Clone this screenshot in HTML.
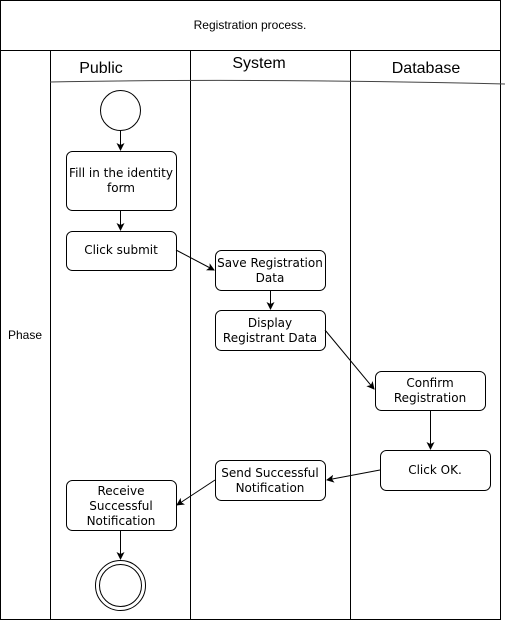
<!DOCTYPE html>
<html><head><style>body{margin:0;background:#fff}svg{display:block}text{font-family:"DejaVu Sans",sans-serif;font-size:12px;fill:#000}</style></head><body>
<svg width="506" height="621" xmlns="http://www.w3.org/2000/svg">
<defs><marker id="a" markerWidth="8" markerHeight="8" refX="7" refY="4" orient="auto" markerUnits="userSpaceOnUse"><path d="M0,0 L8,4 L0,8 L2,4 Z" fill="#000"/></marker></defs>
<g fill="none" stroke="#000" stroke-width="1">
<rect x="0.5" y="0.5" width="500" height="50"/>
<rect x="0.5" y="50.5" width="500" height="569"/>
<line x1="50.5" y1="50" x2="50.5" y2="620"/>
<line x1="190.5" y1="50" x2="190.5" y2="620"/>
<line x1="350.5" y1="50" x2="350.5" y2="620"/>
<path d="M50,82 Q250,78 505,84" stroke="#444"/>
<circle cx="120.5" cy="110.5" r="20"/>
<rect x="66.5" y="151.5" width="110" height="59" rx="6"/>
<rect x="66.5" y="231.5" width="110" height="39" rx="6"/>
<rect x="215.5" y="250.5" width="110" height="40" rx="6"/>
<rect x="215.5" y="310.5" width="110" height="40" rx="6"/>
<rect x="375.5" y="371.5" width="110" height="39" rx="6"/>
<rect x="380.5" y="450.5" width="110" height="40" rx="6"/>
<rect x="215.5" y="460.5" width="110" height="40" rx="6"/>
<rect x="66.5" y="480.5" width="110" height="50" rx="6"/>
<circle cx="120.5" cy="585.5" r="25"/>
<circle cx="120.5" cy="585.5" r="21"/>
<line x1="120.5" y1="131" x2="120.5" y2="150" marker-end="url(#a)"/>
<line x1="120.5" y1="211" x2="120.5" y2="230" marker-end="url(#a)"/>
<line x1="176" y1="250" x2="214" y2="270" marker-end="url(#a)"/>
<line x1="270.5" y1="291" x2="270.5" y2="309" marker-end="url(#a)"/>
<line x1="325" y1="330" x2="374" y2="389" marker-end="url(#a)"/>
<line x1="430.5" y1="411" x2="430.5" y2="449" marker-end="url(#a)"/>
<line x1="380" y1="470" x2="327" y2="480" marker-end="url(#a)"/>
<line x1="215" y1="480" x2="177" y2="505" marker-end="url(#a)"/>
<line x1="120.5" y1="531" x2="120.5" y2="559" marker-end="url(#a)"/>
</g>
<text x="250" y="29" text-anchor="middle" style="font-family:'Liberation Sans',sans-serif;font-size:12px">Registration process.</text>
<text x="25" y="339" text-anchor="middle" style="font-family:'Liberation Sans',sans-serif;font-size:12px">Phase</text>
<text x="101" y="73" text-anchor="middle" style="font-family:'Liberation Sans',sans-serif;font-size:16px">Public</text>
<text x="259" y="68" text-anchor="middle" style="font-family:'Liberation Sans',sans-serif;font-size:16px">System</text>
<text x="426" y="73" text-anchor="middle" style="font-family:'Liberation Sans',sans-serif;font-size:16px">Database</text>
<g text-anchor="middle">
<text x="121" y="177">Fill in the identity</text><text x="121" y="192">form</text>
<text x="121" y="254">Click submit</text>
<text x="270" y="267">Save Registration</text><text x="270" y="282">Data</text>
<text x="270" y="327">Display</text><text x="270" y="342">Registrant Data</text>
<text x="430" y="387">Confirm</text><text x="430" y="402">Registration</text>
<text x="435" y="474">Click OK.</text>
<text x="270" y="477">Send Successful</text><text x="270" y="492">Notification</text>
<text x="121" y="495">Receive</text><text x="121" y="510">Successful</text><text x="121" y="525">Notification</text>
</g>
</svg>
</body></html>
